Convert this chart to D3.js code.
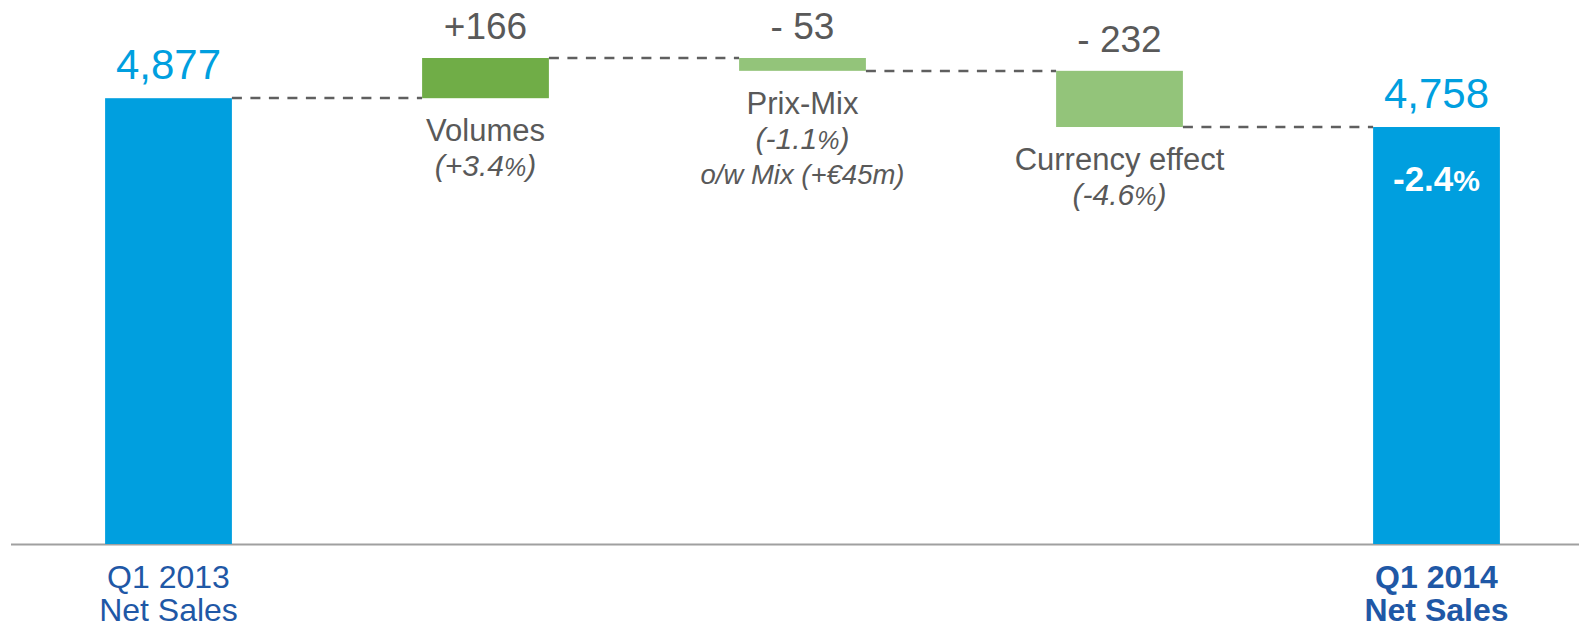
<!DOCTYPE html>
<html>
<head>
<meta charset="utf-8">
<script src="https://cdnjs.cloudflare.com/ajax/libs/d3/7.8.5/d3.min.js"></script>
<style>
  body { margin: 0; background: #fff; }
  text { font-family: "Liberation Sans", Arial, sans-serif; }
</style>
</head>
<body>
<div id="svg-div"></div>
<script>
var width = 1579;
var height = 628;

// waterfall data (EUR m)
var steps = ["Q1 2013", "Volumes", "Prix-Mix", "Currency effect", "Q1 2014"];
var startValue = 4877;
var deltas = [166, -53, -232];
var endValue = 4758;
var valueLabels = ["4,877", "+166", "- 53", "- 232", "4,758"];
var pctLabels = [null, "+3.4", "-1.1", "-4.6", null];
var extraLabels = [null, null, "o/w Mix (+€45m)", null, null];
var axisLabels = [["Q1 2013", "Net Sales"], null, null, null, ["Q1 2014", "Net Sales"]];
var totalChange = "-2.4";

var blue = "#009fdf";
var darkGreen = "#70ad47";
var lightGreen = "#93c47a";
var grey = "#595959";
var navy = "#1f58a6";

// build bars from the values
var bars = [];
var running = startValue;
bars.push({ name: steps[0], y0: 0, y1: startValue, color: blue, total: true });
deltas.forEach(function (d, i) {
  var next = running + d;
  bars.push({
    name: steps[i + 1],
    y0: Math.min(running, next),
    y1: Math.max(running, next),
    from: running,
    to: next,
    color: d > 0 ? darkGreen : lightGreen,
    total: false
  });
  running = next;
});
bars.push({ name: steps[4], y0: 0, y1: endValue, color: blue, total: true });

var svg = d3.select("#svg-div").append("svg")
  .attr("width", width).attr("height", height);

var x = d3.scaleBand()
  .domain(steps)
  .range([10, 1595])
  .paddingInner(0.6)
  .paddingOuter(0.3);

// axis is broken: does not start at zero
var y = d3.scaleLinear()
  .domain([3036, 5043])
  .range([544, 58]);

function yTop(d) { return y(d.y1); }
function yBottom(d) { return d.total ? y.range()[0] : y(d.y0); }

// baseline
svg.append("line")
  .attr("x1", 11).attr("x2", width)
  .attr("y1", y.range()[0] + 0.5).attr("y2", y.range()[0] + 0.5)
  .style("stroke", "#a0a0a0")
  .style("stroke-width", 2);

// connectors
for (var i = 0; i < bars.length - 1; i++) {
  var level = i === 0 ? bars[0].y1 : bars[i].to;
  svg.append("line")
    .attr("x1", x(bars[i].name) + x.bandwidth())
    .attr("x2", x(bars[i + 1].name))
    .attr("y1", Math.round(y(level))).attr("y2", Math.round(y(level)))
    .style("stroke", "#5f5f5f")
    .style("stroke-width", 2.5)
    .style("stroke-dasharray", "10,8.5");
}

svg.selectAll("rect.bar")
  .data(bars)
  .enter().append("rect")
  .attr("class", "bar")
  .attr("x", function (d) { return x(d.name); })
  .attr("width", x.bandwidth())
  .attr("y", yTop)
  .attr("height", function (d) { return yBottom(d) - yTop(d); })
  .style("fill", function (d) { return d.color; });

// value labels above bars
svg.selectAll("text.val")
  .data(bars)
  .enter().append("text")
  .attr("class", "val")
  .attr("x", function (d) { return x(d.name) + x.bandwidth() / 2; })
  .attr("y", function (d) { return yTop(d) - 19; })
  .attr("text-anchor", "middle")
  .style("font-size", function (d) { return d.total ? "42px" : "37px"; })
  .style("fill", function (d) { return d.total ? blue : grey; })
  .text(function (d, i) { return valueLabels[i]; });

// driver labels below the floating bars
bars.forEach(function (d, i) {
  if (d.total) return;
  var cx = x(d.name) + x.bandwidth() / 2;
  var base = yBottom(d) + 43;
  svg.append("text")
    .attr("x", cx).attr("y", base)
    .attr("text-anchor", "middle")
    .style("font-size", "31px")
    .style("fill", grey)
    .text(d.name);
  var t = svg.append("text")
    .attr("x", cx).attr("y", base + 35)
    .attr("text-anchor", "middle")
    .style("font-size", "30px")
    .style("font-style", "italic")
    .style("fill", grey);
  t.append("tspan").text("(" + pctLabels[i]);
  t.append("tspan").style("font-size", "25px").text("%");
  t.append("tspan").text(")");
  if (extraLabels[i]) {
    svg.append("text")
      .attr("x", cx).attr("y", base + 70)
      .attr("text-anchor", "middle")
      .style("font-size", "27.5px")
      .style("font-style", "italic")
      .style("fill", grey)
      .text(extraLabels[i]);
  }
});

// total change inside the last bar
var last = bars[bars.length - 1];
var tc = svg.append("text")
  .attr("x", x(last.name) + x.bandwidth() / 2)
  .attr("y", yTop(last) + 64)
  .attr("text-anchor", "middle")
  .style("font-size", "35px")
  .style("font-weight", "bold")
  .style("fill", "#fff");
tc.append("tspan").text(totalChange);
tc.append("tspan").style("font-size", "30px").text("%");

// category labels under the axis
bars.forEach(function (d, i) {
  if (!axisLabels[i]) return;
  var cx = x(d.name) + x.bandwidth() / 2;
  axisLabels[i].forEach(function (line, j) {
    svg.append("text")
      .attr("x", cx)
      .attr("y", 588 + j * 33)
      .attr("text-anchor", "middle")
      .style("font-size", "32px")
      .style("font-weight", i === bars.length - 1 ? "bold" : "normal")
      .style("fill", navy)
      .text(line);
  });
});
</script>
</body>
</html>
